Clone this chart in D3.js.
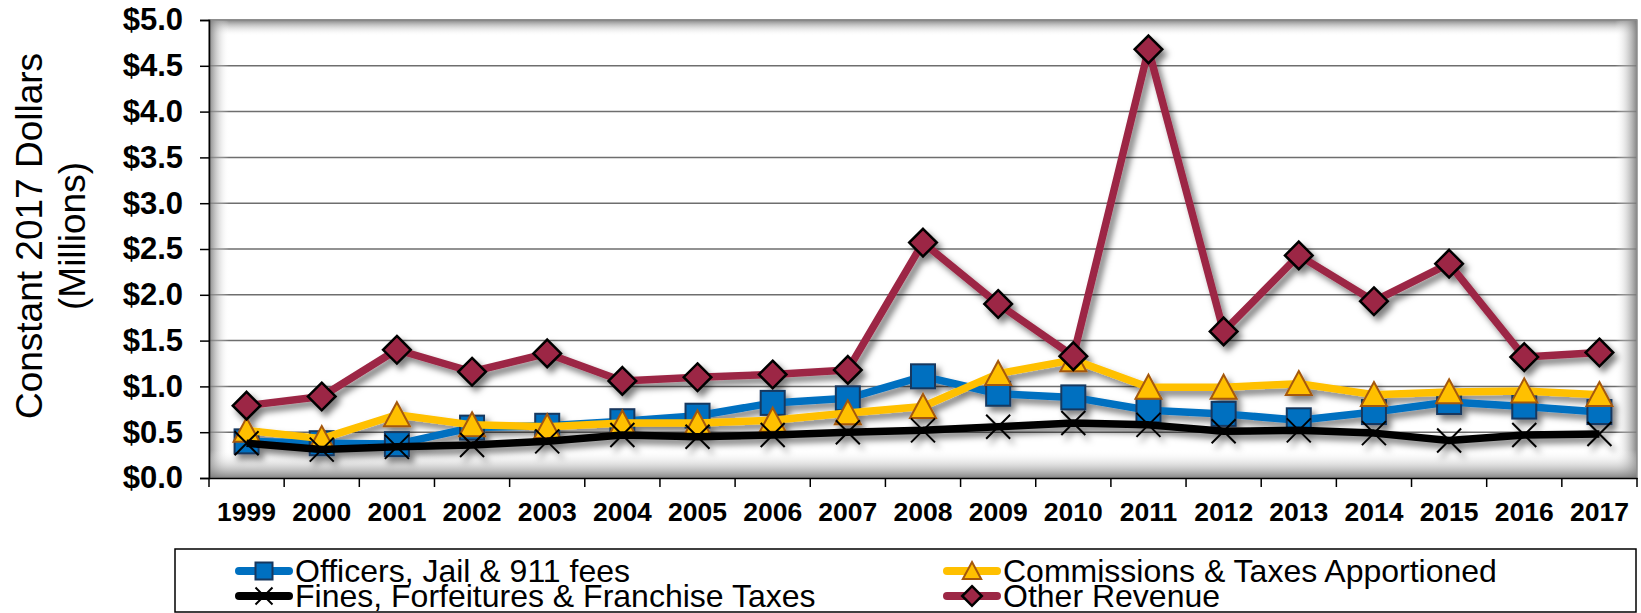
<!DOCTYPE html>
<html>
<head>
<meta charset="utf-8">
<script src="https://cdn.jsdelivr.net/npm/d3@7"></script>
<style>
  body { margin: 0; background: #fff; }
  svg { display: block; font-family: 'Liberation Sans', Arial, sans-serif; }
</style>
</head>
<body>
<script>
const SVG_DIM = {W: 1641, H: 613};
const PLOT = {L: 209, R: 1637, T: 20, B: 478};

const years = ['1999', '2000', '2001', '2002', '2003', '2004', '2005', '2006', '2007', '2008',
  '2009', '2010', '2011', '2012', '2013', '2014', '2015', '2016', '2017'];
const officers = [0.40, 0.38, 0.37, 0.55, 0.57, 0.62, 0.68, 0.82, 0.87, 1.11,
  0.92, 0.88, 0.74, 0.70, 0.63, 0.72, 0.83, 0.78, 0.72];
const commissions = [0.52, 0.43, 0.69, 0.58, 0.56, 0.60, 0.60, 0.63, 0.71, 0.78,
  1.14, 1.29, 0.99, 0.99, 1.03, 0.91, 0.94, 0.95, 0.91];
const fines = [0.38, 0.31, 0.34, 0.36, 0.40, 0.47, 0.45, 0.47, 0.50, 0.52,
  0.56, 0.60, 0.58, 0.51, 0.52, 0.49, 0.41, 0.47, 0.48];
const other = [0.79, 0.89, 1.40, 1.16, 1.36, 1.06, 1.10, 1.13, 1.18, 2.57,
  1.90, 1.33, 4.68, 1.60, 2.43, 1.93, 2.34, 1.32, 1.37];
const yTicks = [0, 0.5, 1, 1.5, 2, 2.5, 3, 3.5, 4, 4.5, 5];
const seriesNames = ['Officers, Jail & 911 fees', 'Commissions & Taxes Apportioned',
  'Fines, Forfeitures & Franchise Taxes', 'Other Revenue'];

const SERIES = [
  {name: seriesNames[0], values: officers, line: '#0070C0', fill: '#0070C0', stroke: '#17375E', marker: 'square'},
  {name: seriesNames[1], values: commissions, line: '#FFC000', fill: '#FFC000', stroke: '#A5580C', marker: 'triangle'},
  {name: seriesNames[2], values: fines, line: '#000000', fill: 'none', stroke: '#000000', marker: 'x'},
  {name: seriesNames[3], values: other, line: '#9C2745', fill: '#9C2745', stroke: '#000000', marker: 'diamond'}
];

const svg = d3.select('body')
  .append('svg')
  .attr('width', SVG_DIM.W)
  .attr('height', SVG_DIM.H);

const defs = svg.append('defs');

// drop shadow for the series
const shadow = defs.append('filter')
  .attr('id', 'shadow')
  .attr('x', '-10%').attr('y', '-10%')
  .attr('width', '120%').attr('height', '120%');
shadow.append('feDropShadow')
  .attr('dx', 4).attr('dy', 5)
  .attr('stdDeviation', 3)
  .attr('flood-color', '#000')
  .attr('flood-opacity', 0.5);

// inner edge shading of the plot area
const edgeGrad = (id, x1, y1, x2, y2) => {
  const g = defs.append('linearGradient').attr('id', id)
    .attr('x1', x1).attr('y1', y1).attr('x2', x2).attr('y2', y2);
  g.append('stop').attr('offset', '0%').attr('stop-color', '#777').attr('stop-opacity', 0.9);
  g.append('stop').attr('offset', '100%').attr('stop-color', '#fff').attr('stop-opacity', 0);
};
edgeGrad('gTop', 0, 0, 0, 1);
edgeGrad('gLeft', 0, 0, 1, 0);
edgeGrad('gRight', 1, 0, 0, 0);
edgeGrad('gBottom', 0, 1, 0, 0);

const x = d3.scaleBand().domain(years).range([PLOT.L, PLOT.R]);
const y = d3.scaleLinear().domain([0, 5]).range([PLOT.B, PLOT.T]);
const cx = d => x(d) + x.bandwidth() / 2;

// plot background
svg.append('rect')
  .attr('x', PLOT.L).attr('y', PLOT.T)
  .attr('width', PLOT.R - PLOT.L).attr('height', PLOT.B - PLOT.T)
  .attr('fill', '#fff');

// gridlines
svg.append('g')
  .selectAll('line')
  .data(yTicks.filter(d => d > 0))
  .enter()
  .append('line')
  .attr('x1', PLOT.L).attr('x2', PLOT.R)
  .attr('y1', d => y(d)).attr('y2', d => y(d))
  .attr('stroke', '#6e6e6e')
  .attr('stroke-width', 1.5);

// edge shading
svg.append('rect').attr('x', PLOT.L).attr('y', PLOT.T).attr('width', PLOT.R - PLOT.L).attr('height', 16).attr('fill', 'url(#gTop)');
svg.append('rect').attr('x', PLOT.L).attr('y', PLOT.T).attr('width', 20).attr('height', PLOT.B - PLOT.T).attr('fill', 'url(#gLeft)');
svg.append('rect').attr('x', PLOT.R - 22).attr('y', PLOT.T).attr('width', 22).attr('height', PLOT.B - PLOT.T).attr('fill', 'url(#gRight)');
svg.append('rect').attr('x', PLOT.L).attr('y', PLOT.B - 28).attr('width', PLOT.R - PLOT.L).attr('height', 28).attr('fill', 'url(#gBottom)');
svg.append('rect')
  .attr('x', PLOT.L).attr('y', PLOT.T)
  .attr('width', PLOT.R - PLOT.L).attr('height', PLOT.B - PLOT.T)
  .attr('fill', 'none')
  .attr('stroke', '#8c8c8c')
  .attr('stroke-width', 1.5);

// y axis
const yAxis = svg.append('g')
  .attr('transform', `translate(${PLOT.L},0)`)
  .call(d3.axisLeft(y).tickValues(yTicks).tickFormat(d => '$' + d.toFixed(1)).tickSize(9).tickPadding(17));
yAxis.select('.domain').attr('stroke', '#000').attr('stroke-width', 1.5);
yAxis.selectAll('.tick line').attr('stroke', '#000').attr('stroke-width', 1.5);
yAxis.selectAll('text')
  .attr('fill', '#000')
  .style('font-size', '31px')
  .style('font-weight', 'bold')
  .style('font-family', "'Liberation Sans', Arial, sans-serif");

// x axis
const xAxis = svg.append('g')
  .attr('transform', `translate(0,${PLOT.B})`)
  .call(d3.axisBottom(x).tickSize(0).tickPadding(24));
xAxis.select('.domain').attr('stroke', '#000').attr('stroke-width', 1.5);
xAxis.selectAll('text')
  .attr('fill', '#000')
  .style('font-size', '26.5px')
  .style('font-weight', 'bold')
  .style('font-family', "'Liberation Sans', Arial, sans-serif");
xAxis.selectAll('.boundary')
  .data(years.map(d => x(d)).concat([PLOT.R]))
  .enter()
  .append('line')
  .attr('class', 'boundary')
  .attr('x1', d => d).attr('x2', d => d)
  .attr('y1', 0).attr('y2', 9)
  .attr('stroke', '#000')
  .attr('stroke-width', 1.5);

// y axis title
const yTitle = svg.append('text')
  .attr('transform', `translate(0,236) rotate(-90)`)
  .attr('text-anchor', 'middle')
  .style('font-size', '37px')
  .attr('fill', '#000');
yTitle.append('tspan').attr('x', 0).attr('y', 42).text('Constant 2017 Dollars');
yTitle.append('tspan').attr('x', 0).attr('y', 85).text('(Millions)');

// marker drawing
function drawMarker(sel, s, size) {
  const h = size / 2;
  if (s.marker === 'square') {
    sel.append('rect')
      .attr('x', -h).attr('y', -h).attr('width', size).attr('height', size)
      .attr('fill', s.fill).attr('stroke', s.stroke).attr('stroke-width', 2);
  } else if (s.marker === 'triangle') {
    sel.append('path')
      .attr('d', `M0,${-h * 1.05}L${h * 1.08},${h * 0.95}L${-h * 1.08},${h * 0.95}Z`)
      .attr('fill', s.fill).attr('stroke', s.stroke).attr('stroke-width', 2);
  } else if (s.marker === 'diamond') {
    const d = h * 1.15;
    sel.append('path')
      .attr('d', `M0,${-d}L${d},0L0,${d}L${-d},0Z`)
      .attr('fill', s.fill).attr('stroke', s.stroke).attr('stroke-width', 2.5);
  } else {
    sel.append('path')
      .attr('d', `M${-h},${-h}L${h},${h}M${-h},${h}L${h},${-h}`)
      .attr('stroke', s.stroke).attr('stroke-width', 2);
  }
}

// series
const line = d3.line().x((d, i) => cx(years[i])).y(d => y(d));

const series = svg.append('g').attr('filter', 'url(#shadow)');
SERIES.forEach(s => {
  const g = series.append('g');
  g.append('path')
    .attr('d', line(s.values))
    .attr('fill', 'none')
    .attr('stroke', s.line)
    .attr('stroke-width', 7.5)
    .attr('stroke-linejoin', 'round');
  g.selectAll('.mark')
    .data(s.values)
    .enter()
    .append('g')
    .attr('class', 'mark')
    .attr('transform', (d, i) => `translate(${cx(years[i])},${y(d)})`)
    .each(function() { drawMarker(d3.select(this), s, 24); });
});

// legend
const LEG = {x: 175, y: 549, w: 1461, h: 63};
svg.append('rect')
  .attr('x', LEG.x).attr('y', LEG.y)
  .attr('width', LEG.w).attr('height', LEG.h)
  .attr('fill', '#fff')
  .attr('stroke', '#000')
  .attr('stroke-width', 1.5);

const legendPos = [
  {sx: 264, ty: 582}, {sx: 972, ty: 582},
  {sx: 264, ty: 607}, {sx: 972, ty: 607}
];

const legendItem = svg.selectAll('.legend-item')
  .data(SERIES)
  .enter()
  .append('g')
  .attr('class', 'legend-item')
  .attr('transform', (d, i) => `translate(${legendPos[i].sx},${legendPos[i].ty})`);

legendItem.append('line')
  .attr('x1', -25).attr('x2', 25)
  .attr('y1', -11).attr('y2', -11)
  .attr('stroke', d => d.line)
  .attr('stroke-width', 8)
  .attr('stroke-linecap', 'round');

legendItem.append('g')
  .attr('transform', 'translate(0,-11)')
  .each(function(d) { drawMarker(d3.select(this), d, 17); });

legendItem.append('text')
  .attr('x', 31)
  .attr('y', 0)
  .style('font-size', '32px')
  .attr('fill', '#000')
  .text(d => d.name);
</script>
</body>
</html>
